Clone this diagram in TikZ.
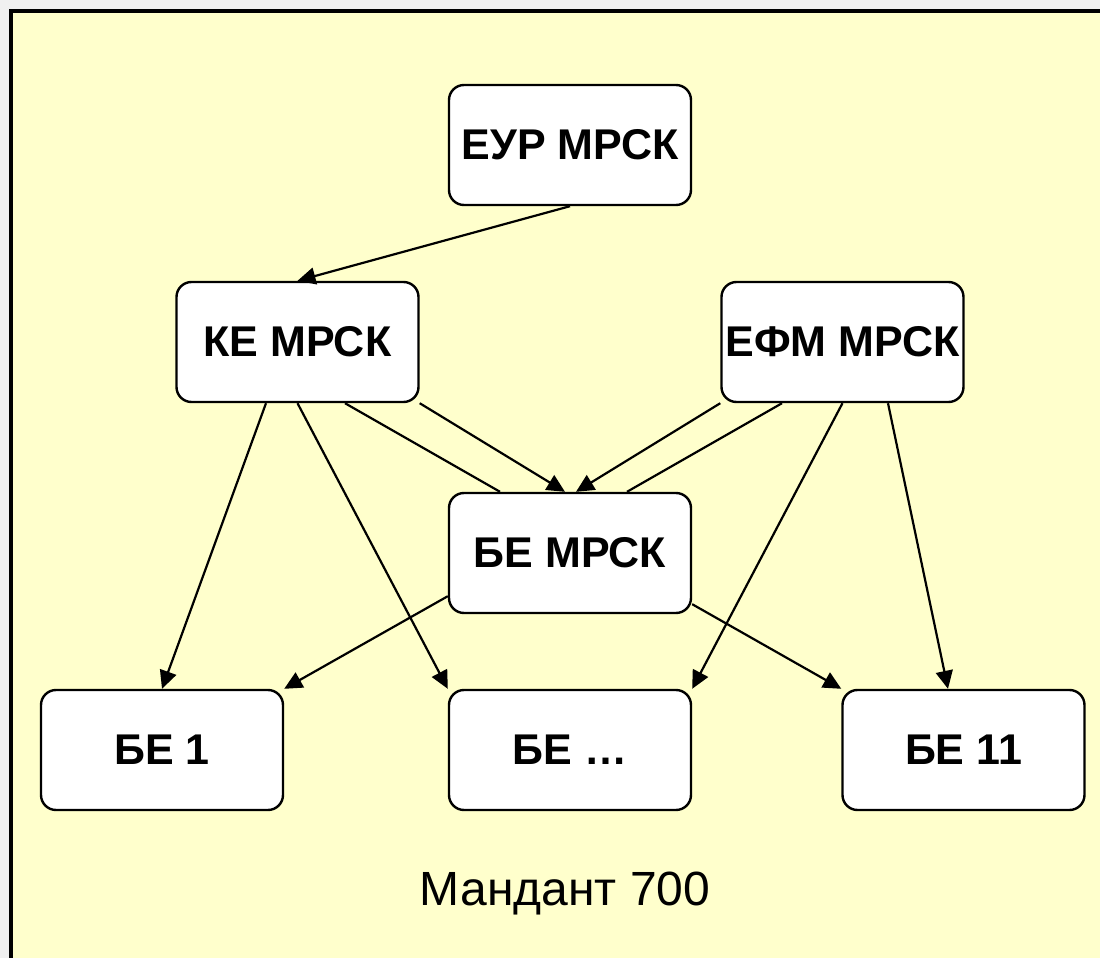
\documentclass[tikz,border=0pt]{standalone}
\usepackage{fontspec}
\setmainfont{Liberation Sans}
\usetikzlibrary{arrows.meta}
\definecolor{paper}{HTML}{FFFFCC}
\definecolor{backgr}{HTML}{F0F0F0}
\tikzset{
  unit/.style={draw,line width=1.2pt,fill=white,rounded corners=7.5pt,
    minimum width=121pt,minimum height=60pt,inner sep=0pt,
    font=\fontsize{21.5}{25}\selectfont\bfseries},
  link/.style={line width=1.1pt},
  arr/.style={link,-{Triangle[length=9pt,width=8.5pt]}}
}
\begin{document}
\begin{tikzpicture}[x=0.5pt,y=-0.5pt]
\clip (0,0) rectangle (1100,958);
\fill[backgr] (0,0) rectangle (1100,958);
\draw[line width=2pt,fill=paper] (11,11) rectangle (1120,980);
\node[unit] (eur) at (570,145) {ЕУР МРСК};
\node[unit] (ke) at (297.5,342) {КЕ МРСК};
\node[unit] (efm) at (842.5,342) {ЕФМ МРСК};
\node[unit] (bem) at (570,553) {БЕ МРСК};
\node[unit] (be1) at (162,750) {БЕ 1};
\node[unit] (bedots) at (570,750) {БЕ …};
\node[unit] (be11) at (963.5,750) {БЕ 11};
\node[font=\fontsize{24}{28}\selectfont,anchor=base] (mand) at (565,905) {Мандант 700};
\draw[arr] (eur.south) -- (ke.north);
\draw[arr] ([xshift=-15.75pt]ke.south) -- (be1.north);
\draw[arr] (ke.south) -- (bedots.north west);
\draw[link] ([xshift=23.75pt]ke.south) -- ([xshift=-35pt]bem.north);
\draw[arr] (ke.south east) -- ([xshift=-2.5pt]bem.north);
\draw[arr] (efm.south west) -- ([xshift=3pt]bem.north);
\draw[link] ([xshift=-30.25pt]efm.south) -- ([xshift=28.5pt]bem.north);
\draw[arr] (efm.south) -- (bedots.north east);
\draw[arr] ([xshift=22.75pt]efm.south) -- ([xshift=-7.75pt]be11.north);
\draw[arr] ([yshift=9pt]bem.south west) -- (be1.north east);
\draw[arr] ([yshift=5pt]bem.south east) -- (be11.north west);
\end{tikzpicture}
\end{document}
